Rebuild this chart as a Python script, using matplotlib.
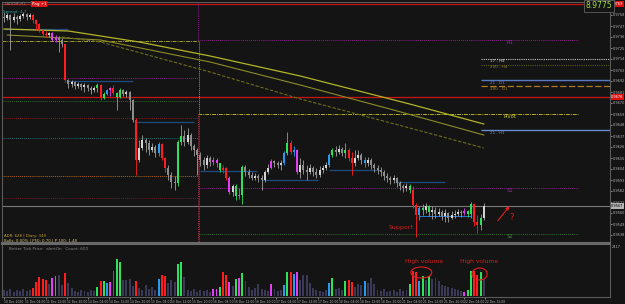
import numpy as np
import matplotlib.pyplot as plt
from matplotlib.patches import Ellipse
import matplotlib.transforms as mtransforms

# prices are in 1/10000 units (9755 -> 0.9755), one entry per H1 bar
first_open = 9756
closes = [9755, 9758, 9753, 9756, 9754, 9757, 9759, 9756, 9758, 9753,
          9749, 9743, 9739, 9738, 9740, 9733, 9735, 9733, 9729, 9693,
          9689, 9691, 9687, 9689, 9686, 9688, 9685, 9683, 9685, 9688,
          9675, 9679, 9683, 9685, 9680, 9676, 9683, 9679, 9681, 9673,
          9653, 9613, 9625, 9633, 9630, 9623, 9626, 9620, 9629, 9615,
          9605, 9598, 9591, 9590, 9631, 9637, 9631, 9638, 9627, 9623,
          9618, 9613, 9608, 9615, 9611, 9613, 9610, 9603, 9605, 9595,
          9581, 9587, 9577, 9578, 9606, 9601, 9598, 9595, 9597, 9595,
          9593, 9601, 9605, 9612, 9610, 9608, 9610, 9620, 9630, 9621,
          9623, 9601, 9608, 9603, 9601, 9605, 9601, 9598, 9603, 9605,
          9608, 9618, 9623, 9621, 9624, 9620, 9623, 9615, 9610, 9615,
          9618, 9613, 9610, 9613, 9608, 9605, 9603, 9601, 9597, 9595,
          9593, 9595, 9590, 9587, 9585, 9587, 9583, 9568, 9558, 9565,
          9563, 9567, 9561, 9563, 9559, 9561, 9557, 9560, 9555, 9558,
          9559, 9561, 9560, 9562, 9559, 9569, 9551, 9548, 9555, 9567]
highs = [9761, 9760, 9759, 9760, 9758, 9759, 9761, 9760, 9760, 9759,
         9754, 9750, 9744, 9742, 9741, 9741, 9738, 9737, 9735, 9729,
         9694, 9693, 9692, 9691, 9690, 9690, 9689, 9687, 9687, 9690,
         9689, 9681, 9684, 9686, 9688, 9681, 9685, 9684, 9683, 9682,
         9674, 9655, 9633, 9638, 9635, 9633, 9630, 9628, 9631, 9630,
         9616, 9608, 9601, 9597, 9633, 9648, 9643, 9645, 9640, 9629,
         9625, 9621, 9616, 9618, 9617, 9616, 9615, 9610, 9608, 9606,
         9597, 9589, 9589, 9585, 9608, 9608, 9604, 9601, 9600, 9599,
         9598, 9603, 9609, 9614, 9613, 9612, 9613, 9622, 9641, 9633,
         9627, 9624, 9615, 9613, 9608, 9609, 9607, 9605, 9607, 9608,
         9611, 9620, 9625, 9627, 9628, 9626, 9630, 9625, 9621, 9623,
         9623, 9620, 9616, 9616, 9615, 9610, 9608, 9606, 9603, 9600,
         9597, 9598, 9596, 9592, 9589, 9590, 9589, 9587, 9570, 9567,
         9569, 9570, 9568, 9567, 9566, 9565, 9563, 9564, 9561, 9562,
         9563, 9564, 9563, 9565, 9563, 9571, 9570, 9558, 9559, 9570]
lows = [9751, 9753, 9723, 9751, 9749, 9752, 9755, 9753, 9754, 9750,
        9743, 9741, 9737, 9736, 9736, 9732, 9731, 9721, 9726, 9691,
        9685, 9686, 9684, 9685, 9683, 9681, 9682, 9679, 9681, 9681,
        9673, 9674, 9678, 9677, 9678, 9663, 9675, 9677, 9676, 9663,
        9651, 9598, 9611, 9623, 9621, 9618, 9621, 9616, 9617, 9613,
        9601, 9593, 9585, 9583, 9587, 9628, 9627, 9629, 9623, 9617,
        9598, 9607, 9603, 9605, 9607, 9608, 9606, 9601, 9600, 9593,
        9579, 9577, 9573, 9574, 9569, 9597, 9595, 9593, 9593, 9591,
        9583, 9591, 9599, 9604, 9606, 9605, 9603, 9608, 9618, 9619,
        9617, 9599, 9595, 9599, 9593, 9599, 9597, 9595, 9596, 9600,
        9603, 9606, 9616, 9617, 9619, 9617, 9615, 9612, 9598, 9607,
        9613, 9609, 9606, 9607, 9604, 9601, 9599, 9597, 9593, 9591,
        9589, 9590, 9586, 9583, 9581, 9582, 9580, 9565, 9536, 9553,
        9558, 9560, 9557, 9554, 9555, 9557, 9553, 9551, 9551, 9554,
        9555, 9557, 9556, 9558, 9556, 9555, 9547, 9540, 9543, 9553]
volumes = [120, 100, 140, 80, 120, 100, 140, 100, 120, 160,
           280, 380, 340, 320, 240, 360, 400, 420, 220, 460,
           260, 160, 100, 80, 120, 100, 80, 120, 100, 180,
           300, 300, 260, 280, 500, 740, 680, 320, 320, 340,
           200, 300, 160, 120, 220, 140, 180, 120, 340, 420,
           400, 260, 320, 280, 640, 680, 380, 120, 100, 140,
           80, 120, 100, 120, 80, 140, 140, 180, 480, 420,
           280, 200, 340, 360, 460, 300, 180, 120, 160, 240,
           140, 120, 100, 240, 140, 100, 120, 220, 480, 480,
           440, 480, 320, 420, 420, 260, 160, 120, 100, 80,
           120, 260, 360, 140, 160, 120, 300, 320, 280, 180,
           240, 220, 300, 260, 360, 240, 120, 100, 140, 80,
           100, 120, 80, 140, 100, 120, 240, 500, 480, 300,
           400, 320, 400, 340, 360, 300, 220, 200, 180, 160,
           140, 120, 100, 80, 120, 500, 500, 420, 480, 340]

# bars flagged by the volume indicator
red_bars = [9, 10, 11, 12, 13, 19, 30, 34, 41, 49, 50, 68, 69, 89, 107, 108, 127, 128, 146, 147]
green_bars = [29, 31, 35, 36, 54, 55, 67, 72, 74, 88, 102, 106, 126, 130, 132, 144, 145, 148]
magenta_bars = [15, 16, 33, 65, 66, 70, 73, 83, 91, 143]
blue_bars = [32, 48, 87, 90, 101, 112, 129]

time_labels = ["10 Dec 2020", "11 Dec 04:00", "11 Dec 12:00", "11 Dec 20:00", "14 Dec 04:00",
               "14 Dec 12:00", "14 Dec 20:00", "15 Dec 04:00", "15 Dec 12:00", "15 Dec 20:00",
               "16 Dec 04:00", "16 Dec 12:00", "16 Dec 20:00", "17 Dec 04:00", "17 Dec 12:00",
               "17 Dec 20:00", "18 Dec 04:00", "18 Dec 12:00", "18 Dec 20:00", "21 Dec 04:00",
               "21 Dec 12:00", "21 Dec 20:00", "22 Dec 04:00", "22 Dec 12:00"]

day_sep = 60.2
red_levels = [9769, 9676]
bid = 9567
old_levels = [9695, 9732, 9672, 9655, 9635, 9597, 9575]
pivot_names = ["R1", "Pivot", "S1", "S2"]
pivot_levels = [9733, 9659, 9585, 9539]
ma_names = ["17 - H4", "200 - H4", "21 - D1", "200 - D1", "21 - H1"]
ma_levels = [9714, 9708, 9693, 9687, 9643]
sr_levels = [9744, 9692, 9651, 9602, 9593, 9603, 9591]
sr_start = [0, 20, 41, 61, 80, 101, 122]
sr_end = [20, 40, 59, 78.5, 97.5, 117, 137]

ma1_x = [0, 20, 42, 64, 92, 126, 149]
ma1_y = [9744, 9742, 9731, 9717, 9697, 9669, 9649]
ma2_x = [1, 30, 64, 92, 121, 149]
ma2_y = [9738, 9733, 9711, 9688, 9663, 9638]
ma3_x = [18, 30, 64, 92, 126, 149]
ma3_y = [9736, 9731, 9701, 9674, 9645, 9625]

BG = '#141414'
fig = plt.figure(figsize=(6.25, 3.04), dpi=100, facecolor=BG)
ax = fig.add_axes([2/625, 1 - 243/304, 608/625, 241/304], facecolor=BG)
axv = fig.add_axes([2/625, 1 - 297/304, 608/625, 53/304], facecolor=BG, sharex=ax)

n = len(closes)
idx = np.arange(n)
opens = [first_open] + closes[:-1]

special = {}
for i in red_bars:
    special[i] = '#ff1e1e'
for i in green_bars:
    special[i] = '#2ee05a'
for i in magenta_bars:
    special[i] = '#e040f0'
for i in blue_bars:
    special[i] = '#2a9af0'

body_col, wick_col, vol_col = [], [], []
for i in range(n):
    if i in special:
        body_col.append(special[i]); wick_col.append(special[i]); vol_col.append(special[i])
    else:
        body_col.append('#d4d4d4' if closes[i] >= opens[i] else '#8c8c8c')
        wick_col.append('#a0a0a0')
        vol_col.append('#3a3a58')

bottoms = [min(o, c) for o, c in zip(opens, closes)]
heights = [max(abs(c - o), 0.8) for o, c in zip(opens, closes)]

### levels
dot = (0, (1, 1))
for v in red_levels:
    ax.axhline(v, color='#c81414', lw=0.9, zorder=2)
ax.axhline(bid, color='#7a7a7a', lw=0.8, zorder=2)

old_cols = ['#8b1a8b', '#a0a020', '#2a6a2a', '#8a1a1a', '#1a7070', '#b06010', '#6a1a2a']
old_ls = [dot, (0, (4, 1, 1, 1)), dot, dot, dot, dot, dot]
for v, c, s in zip(old_levels, old_cols, old_ls):
    ax.hlines(v, -0.62, day_sep, colors=c, linestyles=[s], lw=0.7, zorder=2)

piv_cols = ['#8b1a8b', '#b0b020', '#8b1a8b', '#2a6a2a']
piv_txt = ['#a020a0', '#c8c832', '#a020a0', '#3a8a3a']
piv_ls = [dot, (0, (4, 1, 1, 1)), dot, dot]
for name, v, c, t, s in zip(pivot_names, pivot_levels, piv_cols, piv_txt, piv_ls):
    ax.hlines(v, day_sep, 178.3, colors=c, linestyles=[s], lw=0.7, zorder=2)
    ax.text(157, v - 2, name, color=t, fontsize=3.8, ha='center', va='center')

ax.vlines(day_sep, pivot_levels[0], 9771, colors='#8b1a8b', linestyles=[dot], lw=0.7)
ax.vlines(day_sep + 0.3, pivot_levels[1], 9732, colors='#a0a020', linestyles=[dot], lw=0.7)
ax.vlines(day_sep, 9530, pivot_levels[1], colors='#b02a40', linestyles=[dot], lw=0.7)
ax.vlines(day_sep + 0.4, 9530, pivot_levels[1], colors='#2a8a3a', linestyles=[dot], lw=0.6)

ma_cols = ['#c8c8c8', '#5a5a1a', '#5a7ac8', '#b07a20', '#6a8ad0']
ma_txt = ['#d0d0d0', '#8a7a30', '#6a8ad0', '#b08030', '#6a8ad0']
ma_ls = [dot, dot, '-', (0, (5, 2)), '-']
ma_lw = [0.8, 0.8, 1.0, 0.9, 1.0]
for name, v, c, t, s, w in zip(ma_names, ma_levels, ma_cols, ma_txt, ma_ls, ma_lw):
    ax.hlines(v, 148.1, 188.2, colors=c, linestyles=[s], lw=w, zorder=2)
    ax.text(151, v - 2.5, name, color=t, fontsize=3.0, ha='left', va='center')

for v, a, b in zip(sr_levels, sr_start, sr_end):
    ax.hlines(v, a, b, colors='#1c4c80', lw=0.9, zorder=2)
ax.hlines(9557, 129, 145, colors='#2a7ad8', lw=0.7, zorder=3)

### moving averages
ax.plot(ma1_x, ma1_y, color='#b4b428', lw=0.9, zorder=3)
ax.plot(ma2_x, ma2_y, color='#8c8c28', lw=0.8, zorder=3)
ax.plot(ma3_x, ma3_y, color='#6e6e1e', lw=0.8, ls=(0, (3, 1.5)), zorder=3)

### candles
ax.vlines(idx, lows, highs, colors=wick_col, lw=0.6, zorder=4)
ax.bar(idx, heights, bottom=bottoms, width=0.62, color=body_col, lw=0, zorder=5)

### volume
axv.bar(idx, volumes, width=0.6, color=vol_col, lw=0)

### annotations
ax.text(119.3, 9545, "Support", color='#d02020', fontsize=4.5, ha='left', va='center')
ax.annotate('', xy=(157.5, 9569), xytext=(152.8, 9550),
            arrowprops=dict(arrowstyle='-|>', color='#e01e1e', lw=0.8, mutation_scale=5, fill=False))
ax.text(157.8, 9556, "?", color='#e01e1e', fontsize=6, ha='center', va='center')
axv.text(124.5, 680, "High volume", color='#d02020', fontsize=4.3, ha='left', va='center')
axv.text(141.6, 680, "High volume", color='#d02020', fontsize=4.3, ha='left', va='center')
axv.add_patch(Ellipse((129.6, 470), 6.5, 220, fill=False, ec='#e01e1e', lw=0.8))
axv.add_patch(Ellipse((147.7, 440), 4.7, 240, fill=False, ec='#e01e1e', lw=0.8))
axv.text(1.5, 940, "Better Tick Price   alertOn   Count: 600", color='#8a8a8a', fontsize=3.0, va='center')

fig.text(5/625, 1 - 4/304, "USDCHF,H1", color='#8a8a8a', fontsize=2.6, va='center')
fig.text(39/625, 1 - 4/304, "Pag +1", color='white', fontsize=3.0, va='center', ha='center',
         bbox=dict(boxstyle='square,pad=0.25', fc='#d81818', ec='none'))
fig.text(3/625, 1 - 12/304, "Spread: 4.7", color='#2aa0a0', fontsize=3.0, va='center')
fig.text(4/625, 1 - 236/304, "ADR: 628 | Diary: 349", color='#c8a028', fontsize=2.8, va='center')
fig.text(4/625, 1 - 240.5/304, "Bulls: 0.00% | P50: 0.70 | P 100: 1.48", color='#d8c878', fontsize=2.8, va='center')
fig.text(599/625, 1 - 6/304, "8.9775", color='#a0e040', fontsize=5.5, ha='center', va='center',
         bbox=dict(boxstyle='square,pad=0.2', fc=BG, ec='#606060', lw=0.6))
fig.text(612/625, 1 - 247/304, "2417", color='#b4b4b4', fontsize=2.5, va='center')

### axes styling
ax.set_xlim(-0.62, 188.2)
ax.set_ylim(9530, 9771)
axv.set_ylim(-20, 1040)

ax.yaxis.tick_right()
yt = np.arange(9758, 9535, -11)
ax.set_yticks(yt)
ax.set_yticklabels([f"{v / 10000:.4f}" for v in yt])
ax.tick_params(axis='y', colors='#b4b4b4', labelsize=2.5, length=1.2, width=0.5, pad=0.6)
ax.tick_params(axis='x', bottom=False, labelbottom=False)

tr = mtransforms.blended_transform_factory(ax.transAxes, ax.transData)
for v in red_levels:
    ax.text(1.002, v, f"{v / 10000:.4f}", transform=tr, fontsize=2.5, color='white', va='center', ha='left',
            clip_on=False, bbox=dict(boxstyle='square,pad=0.15', fc='#e01010', ec='none'))
ax.text(1.002, bid, f"{bid / 10000:.4f}", transform=tr, fontsize=2.5, color='black', va='center', ha='left',
        clip_on=False, bbox=dict(boxstyle='square,pad=0.15', fc='#b4b4b4', ec='none'))

axv.set_yticks([])
axv.set_xticks(np.arange(len(time_labels)) * 6.5)
axv.set_xticklabels(time_labels, ha='left')
axv.tick_params(axis='x', colors='#b4b4b4', labelsize=2.2, length=1.5, width=0.5, pad=0.5)

for a in (ax, axv):
    for s in a.spines.values():
        s.set_color('#5a5a5a')
        s.set_linewidth(0.8)
ax.spines['bottom'].set_linewidth(1.5)
ax.spines['bottom'].set_color('#6a6a6a')
axv.spines['top'].set_linewidth(1.5)
axv.spines['top'].set_color('#6a6a6a')

fig.savefig('out.png', dpi=100, facecolor=BG)
